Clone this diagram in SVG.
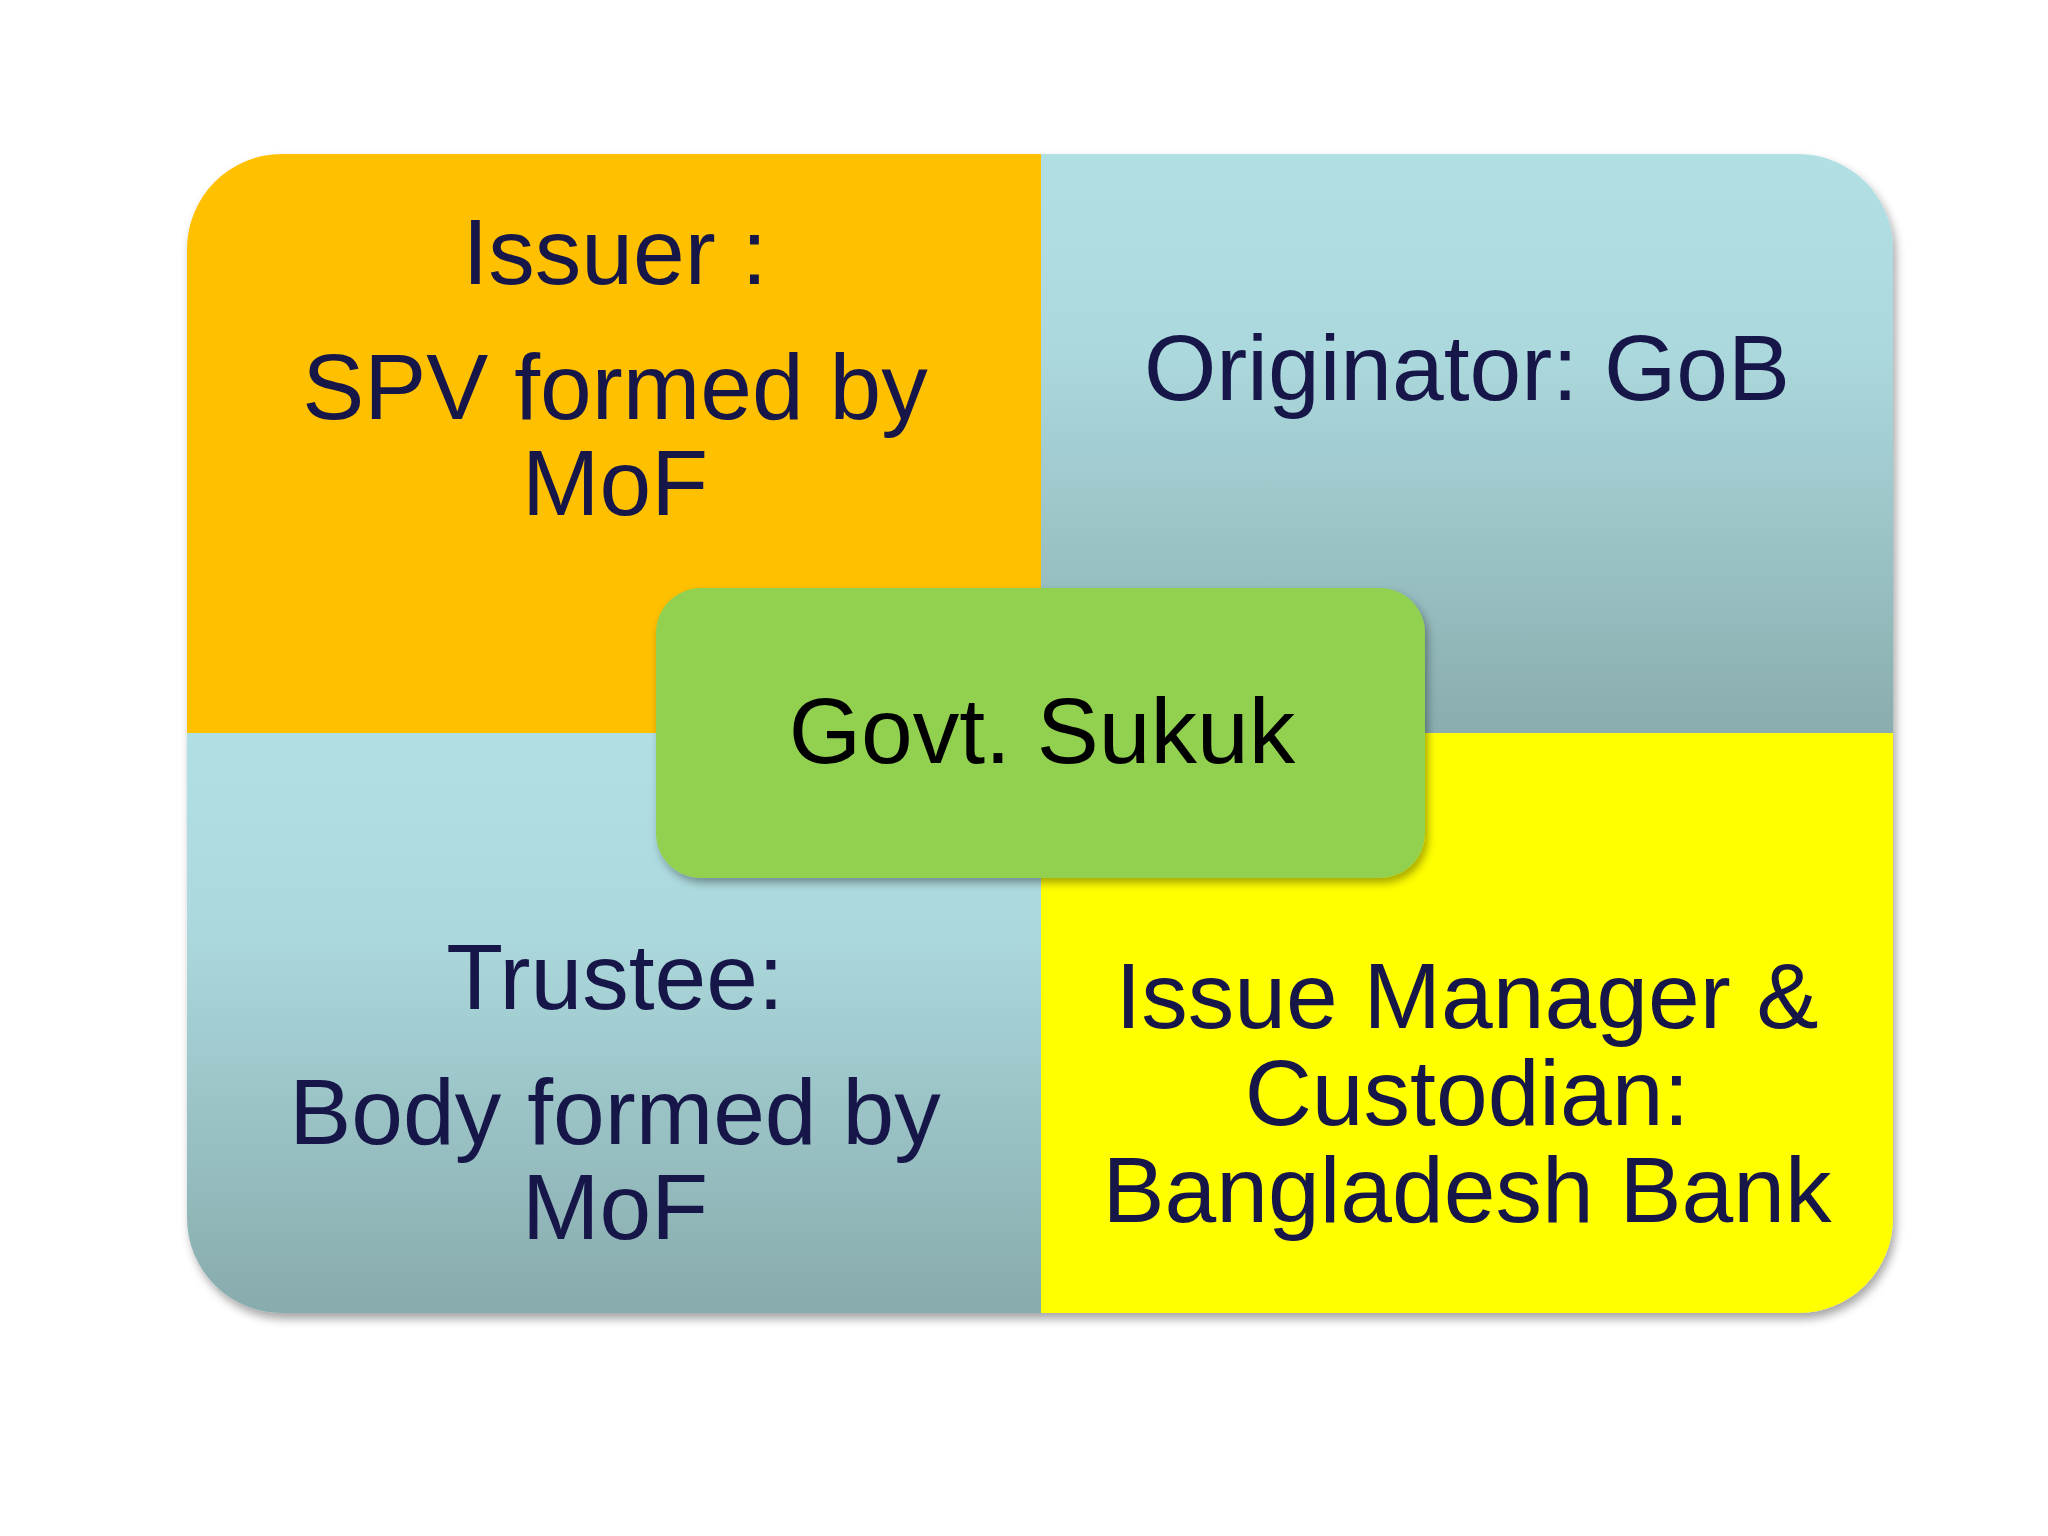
<svg xmlns="http://www.w3.org/2000/svg" width="2048" height="1536" viewBox="0 0 2048 1536">
<defs>
<linearGradient id="gTR" x1="0" y1="0" x2="0" y2="1">
<stop offset="0" stop-color="#B1E0E4"/>
<stop offset="0.35" stop-color="#ABD8DC"/>
<stop offset="1" stop-color="#8AADAF"/>
</linearGradient>
<linearGradient id="gBL" x1="0" y1="0" x2="0" y2="1">
<stop offset="0" stop-color="#B1E0E4"/>
<stop offset="0.35" stop-color="#ABD8DC"/>
<stop offset="1" stop-color="#88ABAD"/>
</linearGradient>
<filter id="sh" x="-5%" y="-5%" width="110%" height="112%">
<feDropShadow dx="3" dy="6" stdDeviation="5" flood-color="#000" flood-opacity="0.35"/>
</filter>
<filter id="sh2" x="-5%" y="-5%" width="110%" height="115%">
<feDropShadow dx="3" dy="5" stdDeviation="4" flood-color="#000" flood-opacity="0.35"/>
</filter>
</defs>
<style>
text{font-family:"Liberation Sans",Arial,sans-serif;font-size:93px;text-anchor:middle;fill:#16164A}
.c{fill:#000}
</style>
<rect width="2048" height="1536" fill="#fff"/>
<g filter="url(#sh)">
<g id="issuer">
<path d="M187,733 V249 A95,95 0 0 1 282,154 H1041 V733 Z" fill="#FFC000"/>
<text x="615" y="284">Issuer :</text>
<text x="615" y="419">SPV formed by</text>
<text x="615" y="515">MoF</text>
</g>
<g id="originator">
<path d="M1041,154 H1798 A95,95 0 0 1 1893,249 V733 H1041 Z" fill="url(#gTR)"/>
<text x="1467" y="400">Originator: GoB</text>
</g>
<g id="trustee">
<path d="M187,733 H1041 V1313 H282 A95,95 0 0 1 187,1218 Z" fill="url(#gBL)"/>
<text x="615" y="1009">Trustee:</text>
<text x="615" y="1144">Body formed by</text>
<text x="615" y="1239">MoF</text>
</g>
<g id="issue-manager">
<path d="M1041,733 H1893 V1218 A95,95 0 0 1 1798,1313 H1041 Z" fill="#FFFF00"/>
<text x="1467" y="1028">Issue Manager &amp;</text>
<text x="1467" y="1125">Custodian:</text>
<text x="1467" y="1222">Bangladesh Bank</text>
</g>
</g>
<g id="connectors"/>
<g id="govt-sukuk">
<rect x="656" y="588" width="769" height="290" rx="45" ry="45" fill="#92D050" filter="url(#sh2)"/>
<text class="c" x="1042" y="763">Govt. Sukuk</text>
</g>
</svg>
